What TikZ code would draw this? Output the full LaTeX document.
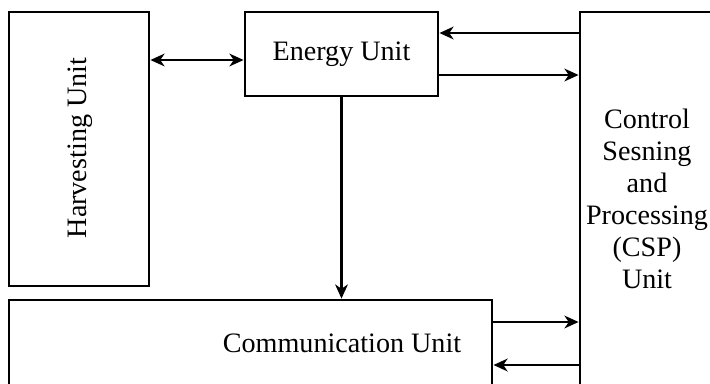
\documentclass[tikz,border=0pt]{standalone}
\usepackage{fontspec}
\setmainfont{Liberation Serif}
\usetikzlibrary{arrows.meta}
\begin{document}
\begin{tikzpicture}[x=0.025cm,y=-0.025cm,>={Stealth[length=10pt,width=9pt,inset=3pt]},
  box/.style={draw,line width=2pt,inner sep=0pt},
  lbl/.style={font=\fontsize{20}{22.7}\selectfont,align=center}]
\useasboundingbox (0,0) rectangle (710,383);
\clip (0,0) rectangle (710,383);

% Bloques
\node[box,minimum width=3.5cm,minimum height=6.85cm] (harv) at (79,149) {};
\node[lbl,rotate=90] (harvtxt) at (80,148) {Harvesting Unit};
\node[box,minimum width=4.825cm,minimum height=2.1cm,lbl] (energy) at (341.5,54) {Energy Unit};
\node[box,minimum width=4.5cm,minimum height=10.2cm] (csp) at (670,216) {};
\node[lbl] (csptxt) at (647,199) {Control\\Sesning\\and\\Processing\\(CSP)\\Unit};
\node[box,minimum width=12.075cm,minimum height=3cm] (comm) at (250.5,360) {};
\node[lbl] (commtxt) at (342,343) {Communication Unit};

% Flechas
\draw[<->,line width=1.8pt] (harv.east |- 0,60) -- (energy.west |- 0,60);
\draw[->,line width=1.8pt] (csp.west |- 0,33) -- (energy.east |- 0,33);
\draw[->,line width=1.8pt] (energy.east |- 0,75) -- (csp.west |- 0,75);
\draw[->,line width=1.8pt] (energy.south) -- (comm.north -| energy.south);
\draw[->,line width=1.8pt] (comm.east |- 0,322) -- (csp.west |- 0,322);
\draw[->,line width=1.8pt] (csp.west |- 0,365) -- (comm.east |- 0,365);

\end{tikzpicture}
\end{document}
